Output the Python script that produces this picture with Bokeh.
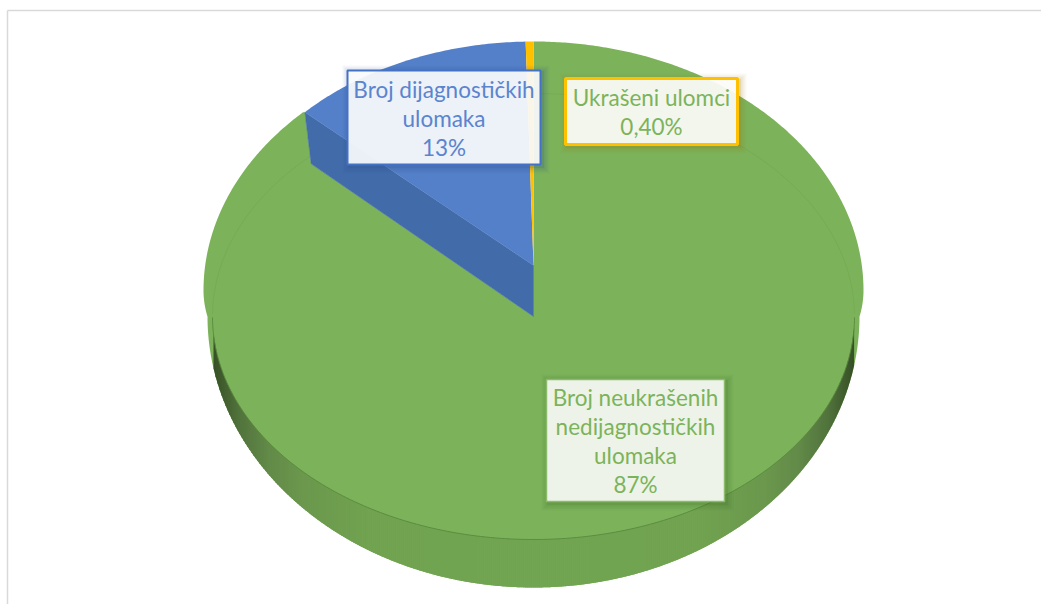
import numpy as np
from bokeh.plotting import figure
from bokeh.embed import file_html
from bokeh.resources import INLINE
from bokeh.core.properties import value

# Data
categories = ["Broj neukrašenih nedijagnostičkih ulomaka", "Broj dijagnostičkih ulomaka", "Ukrašeni ulomci"]
values = [87.0, 12.6, 0.4]
label_lines = [
    ["Broj neukrašenih", "nedijagnostičkih", "ulomaka", "87%"],
    ["Broj dijagnostičkih", "ulomaka", "13%"],
    ["Ukrašeni ulomci", "0,40%"],
]
GREEN, BLUE, YELLOW = "#7cb35a", "#5480c9", "#ffc000"
BLUE_SIDE = "#426ba9"

W, H = 1041, 604
p = figure(width=W, height=H, x_range=(0, W), y_range=(H, 0), output_backend="svg",
           toolbar_location=None, min_border=0, outline_line_color=None, background_fill_color="white")
p.axis.visible = False
p.grid.visible = False

CX = 533.0
# Frame
p.line([7, 7], [10, H], line_color="#d9d9d9", line_width=1.5)
p.line([7, W], [10, 10], line_color="#d9d9d9", line_width=1.5)

tot = sum(values)
a_blue = values[1] / tot * 2 * np.pi
a_yel = values[2] / tot * 2 * np.pi

TOP = dict(cy=265.0, rx=313.6, ry=224.0)
LOW = dict(cy=316.0, rx=305.0, ry=223.0)
def rim(t, f):
    return CX + f["rx"] * np.sin(t), f["cy"] - f["ry"] * np.cos(t)

a0 = -(a_blue + a_yel)
a1 = -a_yel
ux, uy = rim(a0, TOP)
lx, ly = rim(a0, LOW)

# Silhouette
def half_width(y):
    y = np.asarray(y, float)
    upper = 330.0 * np.sqrt(np.clip(1 - ((y - 290.0) / 249.0) ** 2, 0, 1))
    mid = 330.0 * np.sqrt(np.clip(1 - ((y - 290.0) / 168.0) ** 2, 0, 1))
    lower = 326.0 * np.sqrt(np.clip(1 - ((y - 316.0) / 271.0) ** 2, 0, 1))
    return np.where(y < 290.0, upper, np.where(y < 316.0, mid, lower))

def lower_edge(x):
    return 316.0 + 271.0 * np.sqrt(np.clip(1 - ((x - CX) / 326.0) ** 2, 0, 1))

# Green slice: from the top clockwise round to the blue slice's corner
ty_all = 290.0 - 249.0 * np.cos(np.linspace(0, np.pi / 2, 200))
ys_r = np.r_[ty_all, np.linspace(290.0, 316.0, 20), 316.0 + 271.0 * np.sin(np.linspace(0, np.pi / 2, 250))]
xr = CX + half_width(ys_r)
ys_l = ys_r[::-1]
xl = CX - half_width(ys_l)
keep = ys_l >= uy
p.patch(np.r_[CX, xr, xl[keep], ux, lx], np.r_[316.0, ys_r, ys_l[keep], uy, ly], fill_color=GREEN, line_color=None)

# Shaded rim
stops_u = [0, .5, .7, .8, .89, .95, 1]
stops_c = np.array([[0x72,0xa6,0x52],[0x71,0xa3,0x50],[0x6b,0x98,0x4d],[0x63,0x8b,0x49],[0x52,0x74,0x3d],[0x3e,0x5a,0x2c],[0x2c,0x43,0x1f]], float)
IRX, IRY, ICY = 321.0, 223.0, 316.0
def inner(x):
    return ICY + IRY * np.sqrt(np.clip(1 - ((x - CX) / IRX) ** 2, 0, 1))
bx, by, bc = [], [], []
for x in np.arange(CX - 326.0, CX + 326.0, 2.0):
    if abs(x + 1 - CX) >= IRX:
        continue
    x2 = x + 2.6
    bx.append([x, x2, x2, x])
    by.append([inner(x), inner(x2), lower_edge(x2), lower_edge(x)])
    c = [np.interp(abs(x + 1 - CX) / 330.0, stops_u, stops_c[:, i]) for i in range(3)]
    bc.append("#%02x%02x%02x" % tuple(int(v) for v in c))
p.patches(bx, by, fill_color=bc, line_color=None)

# Inner rim line
t2 = np.linspace(0, 2 * np.pi, 400)
ex, ey = CX + IRX * np.sin(t2), ICY - IRY * np.cos(t2)
mid = (t2 > np.pi / 2) & (t2 < 3 * np.pi / 2)
p.line(ex[mid], ey[mid], line_color="#5a8a3e", line_width=1, line_alpha=0.9)
p.line(ex[t2 <= np.pi / 2], ey[t2 <= np.pi / 2], line_color="#6fa34e", line_width=1, line_alpha=0.45)
p.line(ex[t2 >= 3 * np.pi / 2], ey[t2 >= 3 * np.pi / 2], line_color="#6fa34e", line_width=1, line_alpha=0.45)

# Blue side and top, yellow slice
p.patch([CX, CX, lx, ux], [TOP["cy"], LOW["cy"], ly, uy], fill_color=BLUE_SIDE, line_color="#3f66a3", line_width=0.5)
tb = np.linspace(a0, a1, 80)
bx2, by2 = rim(tb, TOP)
p.patch(np.r_[CX, bx2], np.r_[TOP["cy"], by2], fill_color=BLUE, line_color=None)
ty = np.linspace(a1, 0, 10)
yx, yy = rim(ty, TOP)
p.patch(np.r_[CX, yx], np.r_[TOP["cy"], yy], fill_color=YELLOW, line_color=None)

# Labels
boxes = [
    (546, 724, 379, 501, "#8cbb6c", 1.5, "#f0f5ec", 0.98, GREEN, [397, 426, 455, 484]),
    (347, 540, 70, 164, "#4472c4", 2, "#ffffff", 0.9, "#5b84cf", [89, 118, 147]),
    (565, 737, 78, 144, "#ffc000", 3, "#ffffff", 0.9, GREEN, [97, 126]),
]
for (l, r, t_, b, lc, lw, fc, fa, tc, ys), lines, sh in zip(boxes, label_lines, ["#3c6a24", "#2d4d8a", "#9c7a10"]):
    for d, al in [(7, .05), (5, .07), (3, .09), (1.5, .12)]:
        p.quad(left=[l - d + 2], right=[r + d + 2], top=[t_ - d + 2], bottom=[b + d + 2],
               fill_color=sh, fill_alpha=al, line_color=None)
    p.quad(left=[l], right=[r], top=[t_], bottom=[b], fill_color=fc, fill_alpha=fa,
           line_color=lc, line_width=lw)
    p.text(x=[(l + r) / 2] * len(lines), y=ys, text=lines, text_color=tc,
           text_font=value("Lato"), text_font_size="22.5px",
           text_align="center", text_baseline="middle")

open("out.html", "w").write(file_html(p, INLINE))
